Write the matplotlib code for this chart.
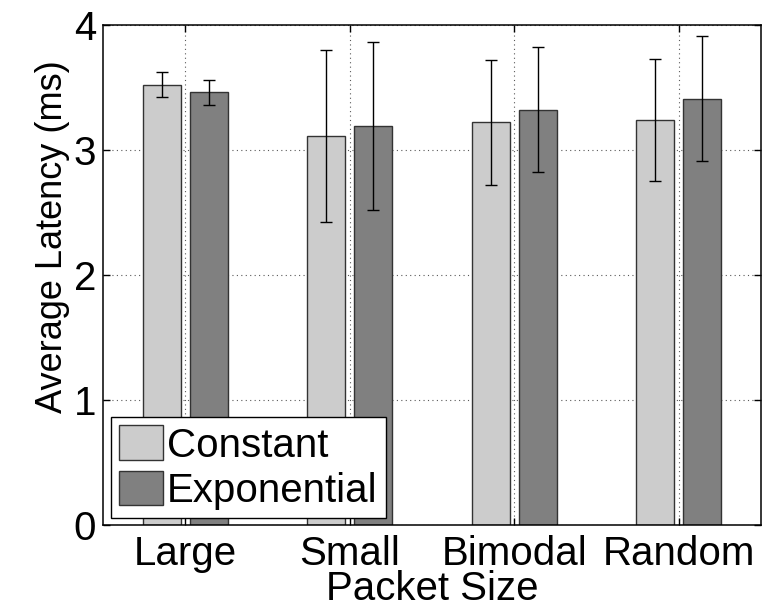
import numpy as np
import matplotlib
matplotlib.use("Agg")
import matplotlib.pyplot as plt

plt.rcParams["font.family"] = ["Liberation Sans", "DejaVu Sans"]

# values (ms)
categories   = ["Large", "Small", "Bimodal", "Random"]
constant     = [3.52, 3.11, 3.22, 3.24]
constant_err = [0.10, 0.69, 0.50, 0.49]
expo         = [3.46, 3.19, 3.32, 3.41]
expo_err     = [0.10, 0.67, 0.50, 0.50]

W = 0.2286   # MATLAB grouped-bar width for 2 series
OFF = 0.1429

x = np.arange(1, len(categories) + 1)

fig = plt.figure(figsize=(7.73, 6.08), dpi=100)
ax = fig.add_axes([0.1332, 0.1365, 0.8513, 0.8224])

ax.bar(x - OFF, constant, W, color="#cccccc", edgecolor="0.2", lw=1.0, label="Constant", zorder=2)
ax.bar(x + OFF, expo, W, color="#808080", edgecolor="0.2", lw=1.0, label="Exponential", zorder=2)
ax.errorbar(x - OFF, constant, yerr=constant_err, fmt="none", ecolor="black",
            elinewidth=1.0, capsize=4, capthick=1.0, zorder=3)
ax.errorbar(x + OFF, expo, yerr=expo_err, fmt="none", ecolor="black",
            elinewidth=1.0, capsize=4, capthick=1.0, zorder=3)

ax.set_xlim(0.5, 4.5)
ax.set_ylim(0, 4)
ax.set_xticks(x)
ax.set_xticklabels(categories)
ax.set_yticks([0, 1, 2, 3, 4])
ax.tick_params(direction="in", length=5, width=1.0, top=True, right=True,
               labelsize=29)
ax.tick_params(axis="x", pad=7)
ax.tick_params(axis="y", pad=5)
ax.grid(True, ls=(0, (1, 3)), color="0.35", lw=0.8, zorder=0)
ax.set_axisbelow(True)
for s in ax.spines.values():
    s.set_linewidth(1.1)

ax.set_xlabel("Packet Size", fontsize=29, labelpad=-2)
ax.set_ylabel("Average Latency (ms)", fontsize=26)
ax.yaxis.set_label_coords(-0.05, 0.577)

leg = ax.legend(loc="lower left", bbox_to_anchor=(0.012, 0.014), borderaxespad=0,
                fontsize=29, fancybox=False, edgecolor="black", framealpha=1,
                handlelength=1.1, handleheight=0.95, handletextpad=0.1,
                borderpad=0.2, labelspacing=0.15)
leg.get_frame().set_linewidth(1.0)

fig.savefig("out.png", dpi=100)
